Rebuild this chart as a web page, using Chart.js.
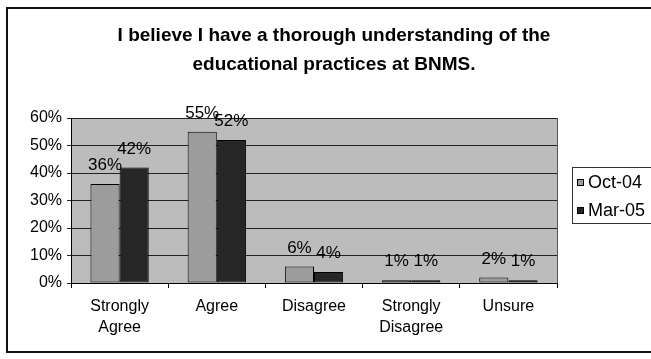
<!DOCTYPE html>
<html lang="en">
<head>
  <meta charset="UTF-8" />
  <title>Understanding of educational practices</title>
  <script src="https://cdn.jsdelivr.net/npm/chart.js"></script>
  <style>
    html, body { margin: 0; padding: 0; background: #fff; }
    #wrap { position: relative; width: 651px; height: 359px; }
  </style>
</head>
<body>
  <div id="wrap">
    <canvas id="surveyChart" width="651" height="359"></canvas>
  </div>

  <script>
    const categories = [['Strongly', 'Agree'], 'Agree', 'Disagree', ['Strongly', 'Disagree'], 'Unsure'];
    const seriesNames = ['Oct-04', 'Mar-05'];
    const oct04 = [36, 55, 6, 1, 2];
    const mar05 = [42, 52, 4, 1, 1];
    const yTicks = [0, 10, 20, 30, 40, 50, 60];
    const titleLines = ['I believe I have a thorough understanding of the', 'educational practices at BNMS.'];

    const FONT = 'Arial, "Liberation Sans", sans-serif';
    const barColors = ['#9c9c9c', '#262626'];

    // outer frame, title, plot background, value labels and the boxed legend
    const decor = {
      id: 'decor',
      beforeDraw(chart) {
        const { ctx, chartArea: a } = chart;
        ctx.save();
        ctx.fillStyle = '#bcbcbc';
        ctx.fillRect(a.left, a.top, a.right - a.left, a.bottom - a.top);
        ctx.restore();
      },
      afterDatasetsDraw(chart) {
        const { ctx } = chart;
        ctx.save();
        ctx.fillStyle = '#000';
        ctx.font = '17px ' + FONT;
        ctx.textAlign = 'center';
        ctx.textBaseline = 'alphabetic';
        chart.data.datasets.forEach((ds, i) => {
          chart.getDatasetMeta(i).data.forEach((bar, j) => {
            ctx.fillText(ds.data[j] + '%', bar.x, bar.y - 14);
          });
        });
        ctx.restore();
      },
      afterDraw(chart) {
        const { ctx, chartArea: a } = chart;
        ctx.save();
        // frame
        ctx.strokeStyle = '#111';
        ctx.lineWidth = 2;
        ctx.strokeRect(7, 8, 700, 344);
        // plot border on the right
        ctx.lineWidth = 1;
        ctx.strokeStyle = '#555';
        ctx.beginPath();
        ctx.moveTo(a.right + 0.5, a.top);
        ctx.lineTo(a.right + 0.5, a.bottom);
        ctx.stroke();

        // title
        ctx.fillStyle = '#000';
        ctx.font = 'bold 19px ' + FONT;
        ctx.textAlign = 'center';
        ctx.textBaseline = 'middle';
        titleLines.forEach((t, i) => ctx.fillText(t, 334, 36 + i * 29));

        // legend
        ctx.strokeStyle = '#333';
        ctx.lineWidth = 1;
        ctx.strokeRect(572.5, 167.5, 90, 56);
        ctx.font = '18px ' + FONT;
        ctx.textAlign = 'left';
        chart.data.datasets.forEach((ds, i) => {
          const y = 182 + i * 28;
          ctx.fillStyle = ds.backgroundColor;
          ctx.fillRect(577, y - 3, 7, 7);
          ctx.strokeStyle = '#000';
          ctx.strokeRect(577.5, y - 2.5, 6, 6);
          ctx.fillStyle = '#000';
          ctx.fillText(ds.label, 588, y + 1);
        });
        ctx.restore();
      }
    };

    new Chart(document.getElementById('surveyChart'), {
      type: 'bar',
      data: {
        labels: categories,
        datasets: [
          { label: seriesNames[0], data: oct04, backgroundColor: barColors[0] },
          { label: seriesNames[1], data: mar05, backgroundColor: barColors[1] }
        ].map(ds => Object.assign(ds, {
          borderColor: '#000',
          borderWidth: 1,
          borderSkipped: false,
          categoryPercentage: 0.6,
          barPercentage: 1
        }))
      },
      options: {
        responsive: false,
        animation: false,
        events: [],
        layout: { padding: { top: 118, right: 94, bottom: 0, left: 0 } },
        plugins: {
          legend: { display: false },
          title: { display: false },
          tooltip: { enabled: false }
        },
        scales: {
          x: {
            grid: { offset: true, drawOnChartArea: false, color: '#000', tickLength: 5 },
            border: { color: '#000', width: 1 },
            ticks: {
              color: '#000',
              font: { family: FONT, size: 16, lineHeight: 1.3 },
              padding: 8,
              maxRotation: 0,
              autoSkip: false
            },
            afterFit: s => { s.height = 76; }
          },
          y: {
            min: 0,
            max: 60,
            afterBuildTicks: s => { s.ticks = yTicks.map(v => ({ value: v })); },
            grid: { color: '#222', lineWidth: 1, tickLength: 4 },
            border: { color: '#000', width: 1 },
            ticks: {
              color: '#000',
              font: { family: FONT, size: 16 },
              padding: 5,
              callback: v => v + '%'
            },
            afterFit: s => { s.width = 71; }
          }
        }
      },
      plugins: [decor]
    });
  </script>
</body>
</html>
